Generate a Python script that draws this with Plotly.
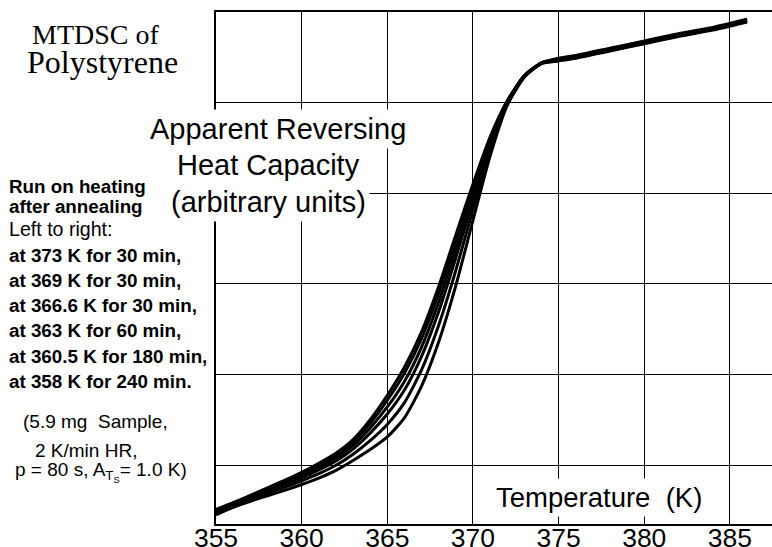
import plotly.graph_objects as go

# ---------------- data ----------------
temperature_K = [355, 356, 357, 358, 359, 360, 361, 362, 363, 364, 365, 366, 367,
                 368, 369, 370, 371, 372, 373, 374, 375, 376, 378, 380, 382, 384, 386]

# apparent reversing heat capacity (arbitrary units), left to right
cp_373K_30min = [-0.49, -0.415, -0.335, -0.252, -0.17, -0.08, 0.02, 0.13, 0.28, 0.50, 0.77, 1.08, 1.47,
                 1.97, 2.54, 3.10, 3.62, 4.02, 4.30, 4.44, 4.49, 4.52, 4.60, 4.68, 4.76, 4.83, 4.92]
cp_369K_30min = [-0.50, -0.422, -0.343, -0.263, -0.183, -0.096, 0.0, 0.107, 0.252, 0.46, 0.715, 1.013, 1.398,
                 1.897, 2.473, 3.052, 3.595, 4.014, 4.298, 4.439, 4.484, 4.514, 4.594, 4.674, 4.754, 4.824, 4.914]
cp_366_6K_30min = [-0.51, -0.43, -0.354, -0.277, -0.201, -0.118, -0.026, 0.077, 0.216, 0.408, 0.641, 0.923, 1.302,
                   1.799, 2.383, 2.988, 3.561, 4.006, 4.294, 4.437, 4.478, 4.508, 4.588, 4.668, 4.748, 4.818, 4.908]
cp_363K_60min = [-0.52, -0.44, -0.365, -0.292, -0.22, -0.141, -0.054, 0.045, 0.177, 0.352, 0.563, 0.828, 1.20,
                 1.695, 2.288, 2.92, 3.525, 3.998, 4.291, 4.435, 4.472, 4.502, 4.582, 4.662, 4.742, 4.812, 4.902]
cp_360_5K_180min = [-0.535, -0.452, -0.38, -0.314, -0.247, -0.175, -0.096, -0.003, 0.119, 0.269, 0.448, 0.688, 1.05,
                    1.543, 2.148, 2.82, 3.473, 3.985, 4.286, 4.433, 4.466, 4.496, 4.576, 4.656, 4.736, 4.806, 4.896]
cp_358K_240min = [-0.55, -0.468, -0.40, -0.34, -0.28, -0.215, -0.145, -0.06, 0.05, 0.17, 0.31, 0.52, 0.87,
                  1.36, 1.98, 2.70, 3.41, 3.97, 4.28, 4.43, 4.46, 4.49, 4.57, 4.65, 4.73, 4.80, 4.89]

series = [cp_373K_30min, cp_369K_30min, cp_366_6K_30min,
          cp_363K_60min, cp_360_5K_180min, cp_358K_240min]
series_names = ["373 K, 30 min", "369 K, 30 min", "366.6 K, 30 min",
                "363 K, 60 min", "360.5 K, 180 min", "358 K, 240 min"]

x_tick_values = [355, 360, 365, 370, 375, 380, 385]
x_tick_labels = ["355", "360", "365", "370", "375", "380", "385"]

title_lines = ["MTDSC of", "Polystyrene"]
ylabel_lines = ["Apparent Reversing", "Heat Capacity", "(arbitrary units)"]
note_header = ["Run on heating", "after annealing"]
note_order = "Left to right:"
note_runs = ["at 373 K for 30 min,", "at 369 K for 30 min,", "at 366.6 K for 30 min,",
             "at 363 K for 60 min,", "at 360.5 K for 180 min,", "at 358 K for 240 min."]
sample_lines = ["(5.9 mg\u00a0 Sample,", "2 K/min HR,", "p = 80 s, A<sub>T<sub>S</sub></sub>= 1.0 K)"]
xlabel_text = "Temperature\u00a0 (K)"

# ---------------- layout geometry ----------------
FIG_W, FIG_H = 772, 547
M_L, M_R, M_T, M_B = 216, 0, 12, 23
PW = FIG_W - M_L - M_R
PH = FIG_H - M_T - M_B


def px(x):
    return (x - M_L) / PW


def py(y):
    return (M_T + PH - y) / PH


SANS = "Liberation Sans, Arial, sans-serif"
SERIF = "Liberation Serif, Times New Roman, serif"

fig = go.Figure()
for vals, name in zip(series, series_names):
    fig.add_trace(go.Scatter(
        x=temperature_K, y=vals, mode="lines", name=name,
        line=dict(color="black", width=3, shape="spline", smoothing=0.6),
        showlegend=False, hoverinfo="skip",
    ))

annotations = []


def note(text, x, baseline, size, family=SANS, anchor="left", bg=None, pad=1, k=0.347):
    d = dict(text=text, x=px(x), y=py(baseline - k * size), xref="paper", yref="paper",
             xanchor=anchor, yanchor="middle", showarrow=False,
             font=dict(family=family, size=size, color="black"), borderpad=pad)
    if bg:
        d["bgcolor"] = bg
    annotations.append(d)


# title
note(title_lines[0], 95, 44, 28, SERIF, "center", k=0.338)
note(title_lines[1], 102, 73, 32, SERIF, "center", k=0.338)

# y label with white background boxes
note(ylabel_lines[0], 277.5, 139, 29, SANS, "center", bg="white", pad=3)
note(ylabel_lines[1], 268.5, 175, 29, SANS, "center", bg="white", pad=3)
note(ylabel_lines[2], 268, 211.7, 29, SANS, "center", bg="white", pad=3)

# left notes
note("<b>%s</b>" % note_header[0], 7, 192.7, 18.8)
note("<b>%s</b>" % note_header[1], 7, 213.3, 18.8)
note(note_order, 7, 236, 19.6)
run_baselines = [261.7, 286.7, 311.7, 336.7, 362.7, 388.3]
for t, b in zip(note_runs, run_baselines):
    note("<b>%s</b>" % t, 7, b, 18.8)

note(sample_lines[0], 20.5, 428.3, 19)
note(sample_lines[1], 33, 456.7, 19)
note(sample_lines[2], 12.5, 479, 19)

# x label
note(xlabel_text, 491.5, 506.7, 27.5, SANS, "left", bg="white", pad=3)

fig.update_layout(
    template="none",
    width=FIG_W, height=FIG_H,
    margin=dict(l=M_L, r=M_R, t=M_T, b=M_B, pad=0),
    paper_bgcolor="white", plot_bgcolor="white",
    showlegend=False,
    annotations=annotations,
    xaxis=dict(
        range=[355, 355 + PW / 17.13],
        tickmode="array", tickvals=x_tick_values, ticktext=x_tick_labels,
        showgrid=True, gridcolor="black", gridwidth=1,
        showline=True, linecolor="black", linewidth=2, mirror=True,
        ticks="", zeroline=False, automargin=False,
        ticklabelstandoff=-11,
        tickfont=dict(family=SANS, size=26.5, color="black"),
    ),
    yaxis=dict(
        range=[-0.651, 5.0],
        tickmode="linear", tick0=0, dtick=1,
        showgrid=True, gridcolor="black", gridwidth=1,
        showline=True, linecolor="black", linewidth=2, mirror=False,
        showticklabels=False, ticks="", zeroline=False, automargin=False,
    ),
)

fig.write_html(
    "out.html",
    config={"displayModeBar": False, "staticPlot": True},
    post_script="document.body.style.margin='0px';document.body.style.padding='0px';",
)
